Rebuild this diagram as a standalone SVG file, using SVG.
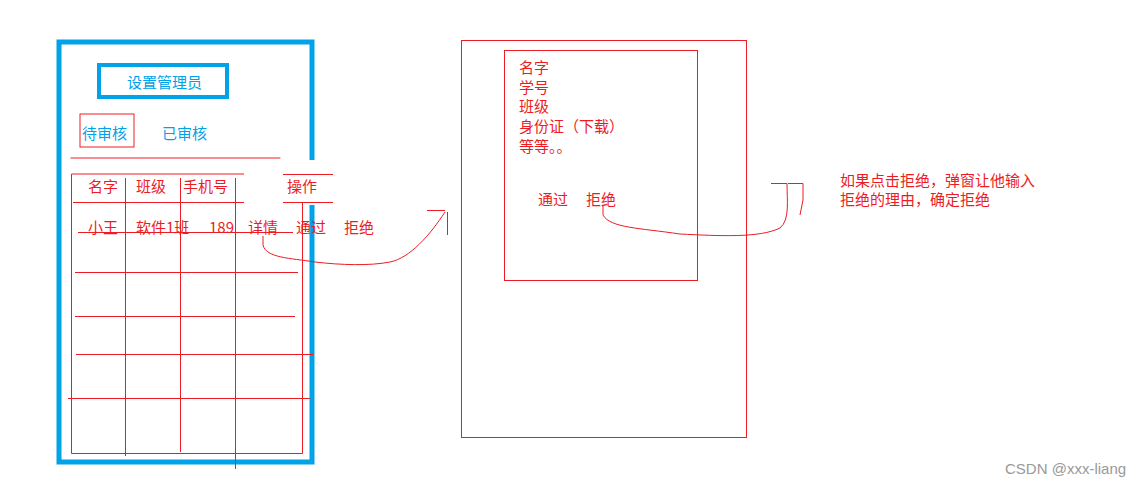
<svg xmlns="http://www.w3.org/2000/svg" width="1132" height="487" viewBox="0 0 1132 487">
<style>
.r{stroke:#ed1c24;stroke-width:1;fill:none}
.b{stroke:#00a2e8;fill:none}
text{font-family:"Noto Sans CJK SC","Liberation Sans",sans-serif;font-size:15px}
.tr{fill:#ed1c24}.tb{fill:#00a2e8}
</style>
<rect width="1132" height="487" fill="#fff"/>
<g id="left-panel">
<path class="b" stroke-width="5" d="M312,160 V42 H59 V462 H312 V205"/>
<rect class="b" stroke-width="4" x="99" y="65" width="128" height="32"/>
<text class="tb" x="127" y="88">设置管理员</text>
<rect class="r" stroke-width="4" x="80" y="114" width="54" height="33"/>
<text class="tb" x="82" y="139">待审核</text>
<text class="tb" x="162" y="139">已审核</text>
<line class="r" stroke-width="4" stroke-linecap="round" x1="71" y1="158" x2="280" y2="158"/>
</g>
<g id="table">
<path class="r" d="M71.5,174 H244 M283,174.5 H333 M283,202.5 H333 M73,202.5 H244 M71.5,174 V453.5 H302.5 V203 M125.5,178 V456 M180.5,178 V452 M235.5,178 V469 M78,232.5 H293 M75,272.5 H298 M75,316.5 H295 M76,354.5 H313 M68,398.5 H310"/>
<text class="tr" x="88" y="192">名字</text>
<text class="tr" x="136" y="192">班级</text>
<text class="tr" x="183" y="192">手机号</text>
<text class="tr" x="287" y="192">操作</text>
<text class="tr" x="88" y="233">小王</text>
<text class="tr" x="136" y="233">软件1班</text>
<text class="tr" x="209" y="233" font-size="14">189</text>
<text class="tr" x="248" y="233">详情</text>
<text class="tr" x="296" y="233">通过</text>
<text class="tr" x="344" y="233">拒绝</text>
</g>
<g id="detail-page">
<rect class="r" x="461.5" y="40.5" width="285" height="397"/>
<rect class="r" x="504.5" y="50.5" width="193" height="230"/>
<text class="tr" x="519" y="73">名字</text>
<text class="tr" x="519" y="93">学号</text>
<text class="tr" x="519" y="112">班级</text>
<text class="tr" x="519" y="132">身份证（下载）</text>
<text class="tr" x="519" y="152">等等。。</text>
<text class="tr" x="538" y="205">通过</text>
<text class="tr" x="586" y="205">拒绝</text>
</g>
<g id="note">
<text class="tr" x="840" y="186">如果点击拒绝，弹窗让他输入</text>
<text class="tr" x="840" y="205">拒绝的理由，确定拒绝</text>
</g>
<g id="connectors">
<path class="r" d="M263,236 V245 C266,258 290,258 315,262 C340,265 370,266 390,262 C410,258 430,235 445,212"/>
<path class="r" d="M427,210.5 H445 M447.5,212 V235"/>
<path class="r" d="M603,205 V215 C610,228 640,228 680,234 C720,236 760,238 780,228 C790,220 787,200 787,183.5"/>
<path class="r" d="M771,183.5 H787 M788,183.5 H803 V200 L800,215"/>
</g>
<text x="1005" y="474" fill="#999" font-size="13" style="font-family:'Liberation Sans','Noto Sans CJK SC',sans-serif">CSDN @xxx-liang</text>
</svg>
